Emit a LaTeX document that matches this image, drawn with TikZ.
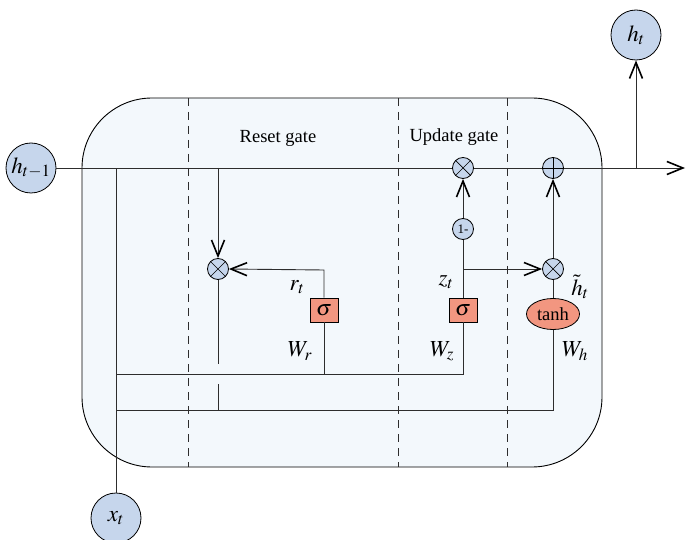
\documentclass[tikz,border=0pt]{standalone}
\usepackage{mathptmx}
\usepackage[no-math]{fontspec}
\setmainfont{Liberation Serif}
\usetikzlibrary{arrows.meta,shapes.geometric}
\definecolor{nodeblue}{RGB}{198,214,236}
\definecolor{salmon}{RGB}{242,150,128}
\definecolor{bgblue}{RGB}{243,248,252}
\definecolor{linegray}{RGB}{45,45,45}
\tikzset{
  conn/.style={draw=linegray, line width=0.9pt},
  arr/.style={conn, -{Straight Barb[length=16pt,width=13pt,line width=1.6pt,color=black]}},
  port/.style={circle, draw=black, fill=nodeblue, minimum size=50pt, inner sep=0pt, line width=0.8pt, font=\fontsize{23}{25}\selectfont},
  op/.style={circle, draw=black, fill=nodeblue, minimum size=21pt, inner sep=0pt, line width=0.8pt},
  gatebox/.style={rectangle, draw=black, fill=salmon, minimum width=28pt, minimum height=24pt, inner sep=0pt, line width=0.8pt},
  tanhbox/.style={ellipse, draw=black, fill=salmon, minimum width=53pt, minimum height=31pt, inner sep=0pt, line width=0.8pt},
  lbl/.style={inner sep=0pt},
  mlbl/.style={inner sep=0pt, font=\fontsize{23}{25}\selectfont},
  divider/.style={draw=linegray, line width=0.8pt, dash pattern=on 8pt off 6pt},
  every node/.style={font=\fontsize{18.5}{22}\selectfont}
}
\begin{document}
\begin{tikzpicture}[x=1pt,y=-1pt]
\useasboundingbox (0,0) rectangle (686,540);
% cell body
\draw[fill=bgblue, line width=0.9pt, rounded corners=70pt] (82,98) rectangle (602,467);
\draw[divider] (188,98) -- (188,467);
\draw[divider] (398,98) -- (398,467);
\draw[divider] (507,98) -- (507,467);
\node[lbl] (resetlbl) at (278,138) {Reset gate};
\node[lbl] (updatelbl) at (454,137) {Update gate};

% ports
\node[port] (hprev) at (31,168) {$h_{t-1}$};
\node[port] (hout) at (636,35) {$h_t$};
\node[port] (xin) at (116,518) {$x_t$};

% coordinates
\coordinate (outend) at (685,168);
\coordinate (hbranch) at (636,168);
\coordinate (xtop) at (116,168);
\coordinate (rtop) at (218,168);
\coordinate (wline1L) at (116,374);
\coordinate (wline2L) at (116,410);
\coordinate (wzcorner) at (463,374);
\coordinate (wrjoin) at (324,374);
\coordinate (whcorner) at (553,410);
\coordinate (rcorner) at (324,270);
\coordinate (zjoin) at (463,269);
\coordinate (rgap1) at (218,364);
\coordinate (rgap2) at (218,384);
\coordinate (rbottom) at (218,410);

% operators
\node[op] (multu) at (463,168) {};
\node[op] (plus) at (553,168) {};
\node[op, font=\fontsize{13}{14}\selectfont] (oneminus) at (463,229) {1-};
\node[op] (multr) at (218,269) {};
\node[op] (multh) at (553,269) {};
\node[gatebox] (sigr) at (324,310) {\fontsize{22}{24}\selectfont$\sigma$};
\node[gatebox] (sigz) at (463,310) {\fontsize{22}{24}\selectfont$\sigma$};
\node[tanhbox] (tanh) at (553,314) {tanh};

% main line
\draw[conn] (hprev.east) -- (multu.west);
\draw[conn] (multu.east) -- (plus.west);
\draw[arr] (plus.east) -- (outend);
\draw[arr] (hbranch) -- (hout.south);
% input
\draw[conn] (xin.north) -- (xtop);
\draw[conn] (wline1L) -- (wzcorner) -- (sigz.south);
\draw[conn] (wrjoin) -- (sigr.south);
\draw[conn] (wline2L) -- (whcorner) -- (tanh.south);
% reset gate
\draw[arr] (rtop) -- (multr.north);
\draw[arr] (sigr.north) -- (rcorner) -- (multr.east);
\draw[conn] (multr.south) -- (rgap1);
\draw[conn] (rgap2) -- (rbottom);
% update gate
\draw[conn] (sigz.north) -- (oneminus.south);
\draw[arr] (oneminus.north) -- (multu.south);
\draw[arr] (zjoin) -- (multh.west);
\draw[conn] (tanh.north) -- (multh.south);
\draw[arr] (multh.north) -- (plus.south);

% operator symbols
\foreach \n in {multu,multr,multh}{
  \draw[line width=0.7pt] (\n.45) -- (\n.225) (\n.135) -- (\n.315);
}
\draw[line width=0.7pt] (plus.north) -- (plus.south) (plus.west) -- (plus.east);

% labels
\node[mlbl] (rtlbl) at (297,287) {$r_t$};
\node[mlbl] (wrlbl) at (300,351) {$W_r$};
\node[mlbl] (ztlbl) at (446,282) {$z_t$};
\node[mlbl] (wzlbl) at (442,351) {$W_z$};
\node[mlbl] (htlbl) at (580,287) {$\tilde{h}_t$};
\node[mlbl] (whlbl) at (575,351) {$W_h$};
\end{tikzpicture}
\end{document}
